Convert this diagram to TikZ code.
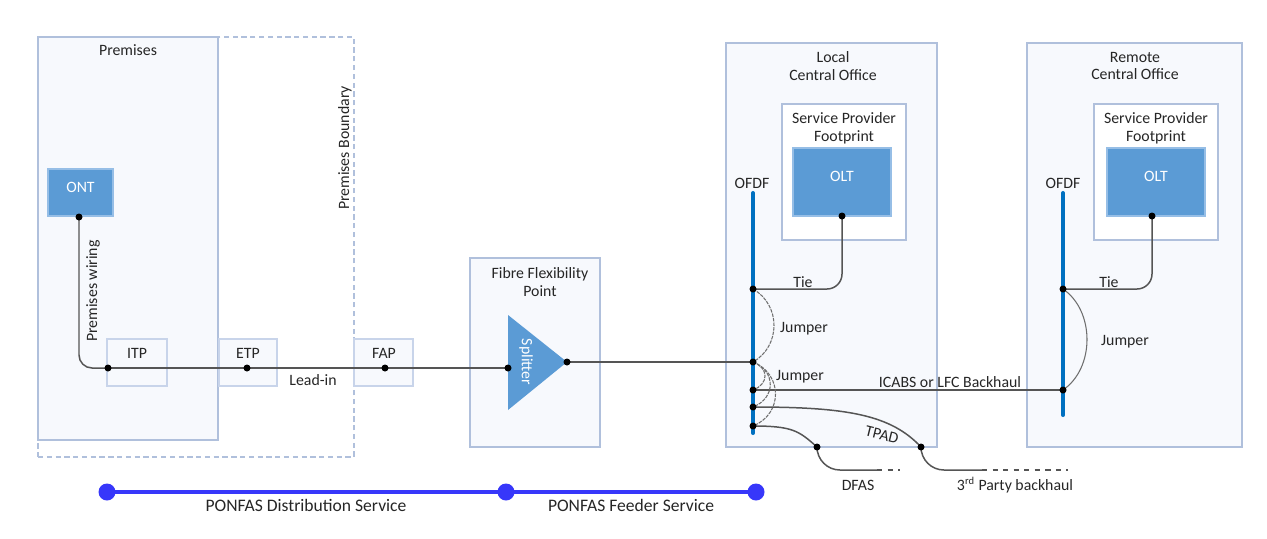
\documentclass[tikz,border=0pt]{standalone}
\usepackage{fontspec}
\setmainfont{Carlito}
\usetikzlibrary{fit}
\definecolor{boxc}{RGB}{176,192,220}
\definecolor{sboxc}{RGB}{200,212,234}
\definecolor{boxfill}{RGB}{247,249,253}
\definecolor{bluefill}{RGB}{91,155,213}
\definecolor{bluebord}{RGB}{150,190,230}
\definecolor{ofdfc}{RGB}{0,112,192}
\definecolor{svc}{RGB}{55,55,250}
\definecolor{wirec}{RGB}{85,85,85}
\definecolor{jumpc}{RGB}{110,110,110}
\definecolor{txt}{RGB}{38,38,38}
\begin{document}
\begin{tikzpicture}[x=0.02cm,y=-0.02cm,
  bigbox/.style={draw=boxc, line width=1.1pt, fill=boxfill, inner sep=0pt},
  dashbox/.style={draw=boxc, line width=0.6pt, dash pattern=on 3pt off 2pt, inner sep=0pt},
  smallbox/.style={draw=sboxc, line width=0.6pt, fill=boxfill, inner sep=0pt},
  bluebox/.style={draw=bluebord, line width=0.6pt, fill=bluefill, text=white, inner sep=0pt, font=\fontsize{9}{10}\selectfont},
  lbl/.style={font=\fontsize{9}{10}\selectfont, text=txt, inner sep=0pt},
  biglbl/.style={font=\fontsize{10}{11}\selectfont, text=txt, inner sep=0pt},
  dot/.style={circle, fill=black, inner sep=0pt, minimum size=0.14cm},
  svcdot/.style={circle, fill=svc, inner sep=0pt, minimum size=0.34cm},
  wire/.style={draw=wirec, line width=0.85pt},
  jumper/.style={draw=jumpc, line width=0.6pt},
  ljumper/.style={draw=jumpc, line width=0.6pt, dash pattern=on 2pt off 0.6pt},
  ofdfbar/.style={draw=ofdfc, line width=2.3pt, line cap=round},
  svcline/.style={draw=svc, line width=1.8pt}
]
\useasboundingbox (0,0) rectangle (1267,538);

% ---------- Premises ----------
\node[dashbox, fit={(38,37) (354,457)}] (bound) {};
\node[bigbox, fit={(38,37) (218,440)}] (prem) {};
\node[lbl] (premL) at (128,50) {Premises};
\node[lbl, rotate=90] (boundL) at (345,148) {Premises Boundary};
\node[bluebox, fit={(48,169) (113,216)}] (ont) {ONT};
\node[lbl, rotate=90] (pwL) at (93,291) {Premises wiring};

\node[smallbox, fit={(107,339) (167,386)}] (itp) {};
\node[lbl] (itpL) at (137,353) {ITP};
\node[smallbox, fit={(219,339) (277,386)}] (etp) {};
\node[lbl] (etpL) at (248,353) {ETP};
\node[smallbox, fit={(354,339) (413,386)}] (fap) {};
\node[lbl] (fapL) at (384,353) {FAP};
\node[lbl] (leadL) at (313,380) {Lead-in};

% ---------- Fibre Flexibility Point ----------
\node[bigbox, fit={(470,258) (600,447)}] (ffp) {};
\node[lbl, align=center] (ffpL) at (540,282) {Fibre Flexibility\\Point};
\fill[bluefill] (508,315) -- (567,362) -- (508,410) -- cycle;
\node[lbl, text=white, rotate=-90] (split) at (526,362) {Splitter};

% ---------- Local CO ----------
\node[bigbox, fit={(726,43) (937,447)}] (lco) {};
\node[lbl, align=center] (lcoL) at (833,66) {Local\\Central Office};
\node[bigbox, fill=white, fit={(782,104) (906,240)}] (lsp) {};
\node[lbl, align=center] (lspL) at (844,128) {Service Provider\\Footprint};
\node[bluebox, fit={(793,148) (891,216)}] (lolt) {OLT};
\node[lbl] (lofdfL) at (752,183) {OFDF};

% ---------- Remote CO ----------
\node[bigbox, fit={(1027,43) (1242,447)}] (rco) {};
\node[lbl, align=center] (rcoL) at (1135,66) {Remote\\Central Office};
\node[bigbox, fill=white, fit={(1094,104) (1218,240)}] (rsp) {};
\node[lbl, align=center] (rspL) at (1156,128) {Service Provider\\Footprint};
\node[bluebox, fit={(1107,148) (1205,216)}] (rolt) {OLT};
\node[lbl] (rofdfL) at (1063,183) {OFDF};

% ---------- coordinates ----------
\coordinate (ontD) at (79,217);
\coordinate (itpD) at (108,368);
\coordinate (etpD) at (247,368);
\coordinate (fapD) at (385,368);
\coordinate (spIn) at (508,368);
\coordinate (spOut) at (567,362);
\coordinate (loltD) at (842,216);
\coordinate (roltD) at (1152,216);
\coordinate (lt) at (753,193);
\coordinate (lb) at (753,433);
\coordinate (rt) at (1063,193);
\coordinate (rb) at (1063,415);
\coordinate (l1) at (753,289);
\coordinate (l2) at (753,362);
\coordinate (l3) at (753,390);
\coordinate (l4) at (753,407);
\coordinate (l5) at (753,426);
\coordinate (r1) at (1063,289);
\coordinate (r2) at (1063,390);
\coordinate (tpD) at (921,447);
\coordinate (dfD) at (817,447);
\coordinate (dfA) at (877,470);
\coordinate (dfB) at (900,470);
\coordinate (tpA) at (982,470);
\coordinate (tpB) at (1068,470);

% ---------- OFDF bars ----------
\draw[ofdfbar] (lt) -- (lb);
\draw[ofdfbar] (rt) -- (rb);

% ---------- wires ----------
\draw[wire, rounded corners=0.26cm] (ontD) |- (itpD);
\draw[wire] (itpD) -- (etpD) -- (fapD) -- (spIn);
\draw[wire] (spOut) -- (l2);
\draw[wire, rounded corners=0.3cm] (loltD) |- (l1);
\draw[wire, rounded corners=0.3cm] (roltD) |- (r1);
\draw[wire] (l3) -- (r2);
\draw[ljumper] (l1) .. controls +(28,16) and +(28,-16) .. (l2);
\draw[ljumper] (l2) .. controls +(16,6) and +(16,-6) .. (l3);
\draw[ljumper] (l2) .. controls +(23,9) and +(23,-9) .. (l4);
\draw[ljumper] (l2) .. controls +(30,12) and +(30,-12) .. (l5);
\draw[jumper] (r1) .. controls +(32,22) and +(32,-22) .. (r2);
\draw[wire] (l4) .. controls +(95,0) and +(-30,-32) .. (tpD);
\draw[wire] (l5) .. controls +(40,0) and +(-18,-16) .. (dfD);
\draw[wire, rounded corners=0.46cm] (dfD) |- (dfA);
\draw[wire, dashed] (dfA) -- (dfB);
\draw[wire, rounded corners=0.46cm] (tpD) |- (tpA);
\draw[wire, dashed] (tpA) -- (tpB);

% ---------- dots ----------
\foreach \p in {ontD,itpD,etpD,fapD,spIn,spOut,loltD,roltD,l1,l2,l3,l4,l5,r1,r2,tpD,dfD}
  \node[dot] (\p-dot) at (\p) {};

% ---------- wire labels ----------
\node[lbl] (tieL) at (803,282) {Tie};
\node[lbl] (rtieL) at (1109,282) {Tie};
\node[lbl] (j1L) at (804,329) {Jumper};
\node[lbl] (j2L) at (800,377) {Jumper};
\node[lbl] (rjL) at (1125,342) {Jumper};
\node[lbl] (icabsL) at (950,382) {ICABS or LFC Backhaul};
\node[lbl, rotate=-14] (tpadL) at (882,435) {TPAD};
\node[lbl] (dfasL) at (858,485) {DFAS};
\node[lbl] (tpbL) at (1015,485) {3\textsuperscript{rd} Party backhaul};

% ---------- service bar ----------
\coordinate (s1) at (107,492);
\coordinate (s2) at (506,492);
\coordinate (s3) at (756,492);
\draw[svcline] (s1) -- (s2) -- (s3);
\node[svcdot] (s1d) at (s1) {};
\node[svcdot] (s2d) at (s2) {};
\node[svcdot] (s3d) at (s3) {};
\node[biglbl] (distL) at (306,505) {PONFAS Distribution Service};
\node[biglbl] (feedL) at (631,505) {PONFAS Feeder Service};
\end{tikzpicture}
\end{document}
